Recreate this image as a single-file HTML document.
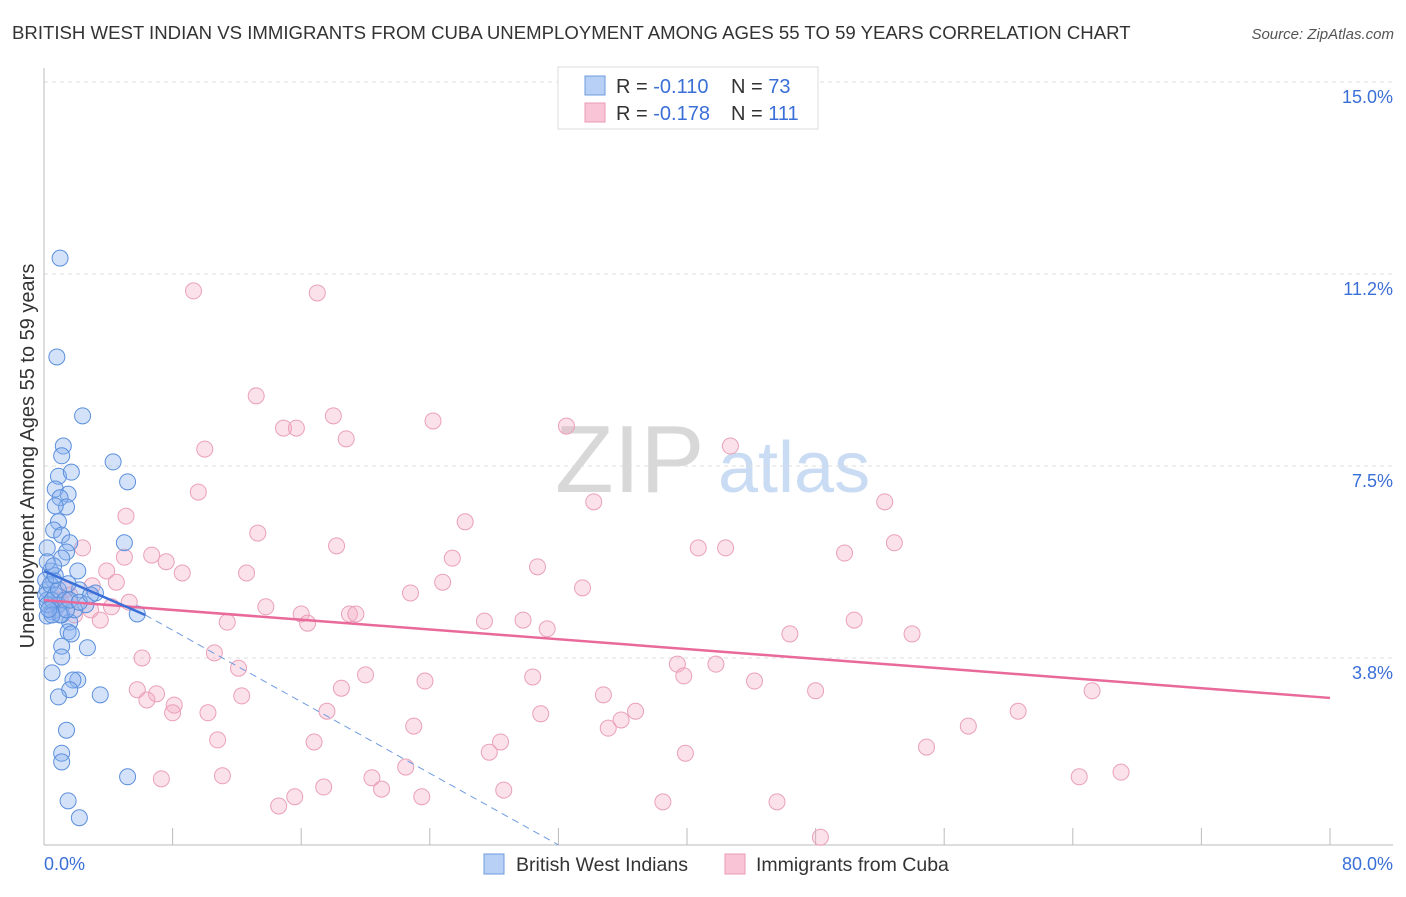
<!DOCTYPE html>
<html><head><meta charset="utf-8"><style>
body{margin:0;background:#fff;font-family:"Liberation Sans",sans-serif}
svg text{font-family:"Liberation Sans",sans-serif}
</style></head><body>
<svg id="c" width="1406" height="892">
<text x="12" y="39" font-size="18.6" fill="#333">BRITISH WEST INDIAN VS IMMIGRANTS FROM CUBA UNEMPLOYMENT AMONG AGES 55 TO 59 YEARS CORRELATION CHART</text>
<text x="1394" y="39" font-size="15" fill="#555" font-style="italic" text-anchor="end">Source: ZipAtlas.com</text>
<g>
<text x="555" y="492" font-size="96" fill="#d8d8d8" font-family="Liberation Serif">ZIP</text>
<text x="718" y="492" font-size="72" fill="#c9dcf3">atlas</text>
</g>
<text transform="translate(34,456) rotate(-90)" font-size="20" fill="#333" text-anchor="middle">Unemployment Among Ages 55 to 59 years</text>
<g id="grid"></g><g id="axes"></g><g id="pts"></g><g id="trends"></g>
<g>
<rect x="558" y="67" width="260" height="62" fill="#fff" stroke="#ddd"/>
<rect x="585" y="76" width="20" height="19" fill="#b8d0f5" stroke="#6e9be0"/>
<rect x="585" y="103" width="20" height="19" fill="#f9c5d6" stroke="#e99ab4"/>
<text x="616" y="93" font-size="20" fill="#333">R = <tspan fill="#3a6fd8">-0.110</tspan><tspan x="731">N = </tspan><tspan fill="#3a6fd8">73</tspan></text>
<text x="616" y="120" font-size="20" fill="#333">R = <tspan fill="#3a6fd8">-0.178</tspan><tspan x="731">N = </tspan><tspan fill="#3a6fd8">111</tspan></text>
</g>
<g>
<rect x="484" y="854" width="20" height="20" fill="#b8d0f5" stroke="#6e9be0"/>
<text x="516" y="871" font-size="19.5" fill="#333">British West Indians</text>
<rect x="725" y="854" width="20" height="20" fill="#f9c5d6" stroke="#e99ab4"/>
<text x="756" y="871" font-size="19.5" fill="#333">Immigrants from Cuba</text>
</g>
</svg>
<script>
const yTicks=[15,11.25,7.5,3.75];
const yTickLabels=["15.0%","11.2%","7.5%","3.8%"];
const xTicks=[0,8,16,24,32,40,48,56,64,72,80];
const xEndLabels=["0.0%","80.0%"];
const blueX=[1.0,0.8,2.4,1.2,1.1,4.3,0.9,1.7,5.2,0.7,1.5,1.0,1.4,0.7,0.9,0.6,1.1,1.6,5.0,0.2,1.4,1.1,0.4,2.1,0.6,0.2,3.2,2.2,0.2,0.9,2.6,0.5,1.1,1.6,5.8,0.2,1.5,1.7,2.7,1.1,1.1,0.5,2.1,1.8,1.6,0.9,3.5,1.4,1.1,1.1,5.2,1.5,2.2,0.1,0.1,0.4,0.7,0.2,0.5,0.9,1.3,1.9,1.5,0.2,0.7,1.0,0.5,1.4,1.6,2.2,2.9,0.6,0.3];
const blueY=[11.56,9.63,8.48,7.89,7.70,7.58,7.30,7.38,7.19,7.05,6.95,6.88,6.70,6.72,6.41,6.25,6.15,6.00,6.00,5.90,5.82,5.70,5.45,5.45,5.27,5.08,5.02,5.08,4.88,4.79,4.79,4.65,4.59,4.45,4.61,4.57,4.26,4.22,3.95,3.98,3.77,3.46,3.32,3.32,3.13,2.99,3.03,2.34,1.89,1.72,1.43,0.96,0.63,4.98,5.27,5.18,4.98,4.79,4.88,5.08,4.88,4.69,5.20,5.63,5.36,4.59,4.59,4.69,4.88,4.84,4.98,5.55,4.70];
const pinkX=[9.3,17.0,13.2,18.0,24.2,32.5,42.7,10.0,14.9,15.7,18.8,9.6,34.2,52.3,5.1,26.2,13.3,18.2,52.9,40.7,42.4,49.8,2.4,6.7,5.0,7.6,25.4,30.7,8.6,12.6,3.9,3.0,4.5,24.8,33.5,22.8,5.3,13.8,16.0,19.0,19.4,4.2,2.9,16.4,11.4,27.4,29.8,31.3,46.4,50.4,54.0,10.6,6.1,12.1,39.4,41.8,39.8,20.0,44.2,23.7,30.4,5.8,7.0,6.4,8.1,18.5,12.3,34.8,48.0,65.2,8.0,10.2,17.6,23.0,35.1,36.8,35.9,30.9,60.6,57.5,10.8,16.8,28.4,27.7,39.9,54.9,22.5,7.3,11.1,20.4,21.0,17.4,15.6,23.5,28.6,14.6,38.5,45.6,64.4,67.0,48.3,1.0,0.7,1.6,3.5,1.9,1.3];
const pinkY=[10.92,10.88,8.87,8.48,8.38,8.28,7.89,7.83,8.24,8.24,8.03,6.99,6.80,6.80,6.52,6.41,6.19,5.94,6.00,5.90,5.90,5.80,5.90,5.76,5.72,5.63,5.70,5.53,5.41,5.41,5.45,5.16,5.23,5.23,5.12,5.02,4.84,4.75,4.61,4.61,4.61,4.75,4.69,4.43,4.45,4.47,4.49,4.32,4.22,4.49,4.22,3.85,3.75,3.55,3.63,3.63,3.40,3.42,3.30,3.30,3.38,3.13,3.05,2.93,2.83,3.16,3.01,3.03,3.11,3.11,2.68,2.68,2.71,2.42,2.38,2.71,2.54,2.66,2.71,2.42,2.15,2.11,2.11,1.91,1.89,2.01,1.62,1.39,1.45,1.41,1.19,1.23,1.04,1.04,1.17,0.86,0.94,0.94,1.43,1.52,0.25,4.88,4.69,4.98,4.49,4.59,5.08];
const pinkTrendX=[0,80], pinkTrendY=[4.88,2.97];
const blueTrendX=[0,6.3], blueTrendY=[5.45,4.59];
const blueDashX=[6.3,32], blueDashY=[4.59,0.1];
const NS="http://www.w3.org/2000/svg";
const X=v=>44+v*16.075, Y=v=>82+(15-v)*51.2;
function mk(t,a,p){const e=document.createElementNS(NS,t);for(const k in a)e.setAttribute(k,a[k]);p.appendChild(e);return e;}
const grid=document.getElementById('grid'),axes=document.getElementById('axes');
yTicks.forEach((v,i)=>{
 const l=mk('line',{x1:44,x2:1393,y1:Y(v),y2:Y(v),stroke:'#ddd','stroke-dasharray':'4,4'},grid);
 
 
 const t=mk('text',{x:1393,y:Y(v)+21,'font-size':18,fill:'#3a6fd8','text-anchor':'end'},grid);
 t.textContent=yTickLabels[i];
 
 
});
let a=mk('line',{x1:44,x2:44,y1:68,y2:845,stroke:'#bbb'},axes);


a=mk('line',{x1:44,x2:1393,y1:845,y2:845,stroke:'#bbb'},axes);


xTicks.forEach(v=>{const t=mk('line',{x1:X(v),x2:X(v),y1:828,y2:845,stroke:'#bbb'},axes);
 
 });
[[0,'start'],[80,'end']].forEach(([v,an],i)=>{const t=mk('text',{x:i?1393:44,y:870,'font-size':18,fill:'#3a6fd8','text-anchor':an},axes);
 t.textContent=xEndLabels[i];
 
 });
const pts=document.getElementById('pts');
pinkX.forEach((v,i)=>{const c=mk('circle',{cx:X(v),cy:Y(pinkY[i]),r:8,fill:'rgba(244,170,195,0.35)',stroke:'#eaa0b9','stroke-width':1},pts);
 
 });
blueX.forEach((v,i)=>{const c=mk('circle',{cx:X(v),cy:Y(blueY[i]),r:8,fill:'rgba(140,180,240,0.38)',stroke:'#5b8fdc','stroke-width':1},pts);
 
 });
const tr=document.getElementById('trends');
let l=mk('line',{x1:X(pinkTrendX[0]),y1:Y(pinkTrendY[0]),x2:X(pinkTrendX[1]),y2:Y(pinkTrendY[1]),stroke:'#e8699a','stroke-width':2.5},tr);


l=mk('line',{x1:X(blueDashX[0]),y1:Y(blueDashY[0]),x2:X(blueDashX[1]),y2:Y(blueDashY[1]),stroke:'#6e9be0','stroke-width':1,'stroke-dasharray':'7,5'},tr);


l=mk('line',{x1:X(blueTrendX[0]),y1:Y(blueTrendY[0]),x2:X(blueTrendX[1]),y2:Y(blueTrendY[1]),stroke:'#3a6fd8','stroke-width':2.5},tr);


</script>
</body></html>
